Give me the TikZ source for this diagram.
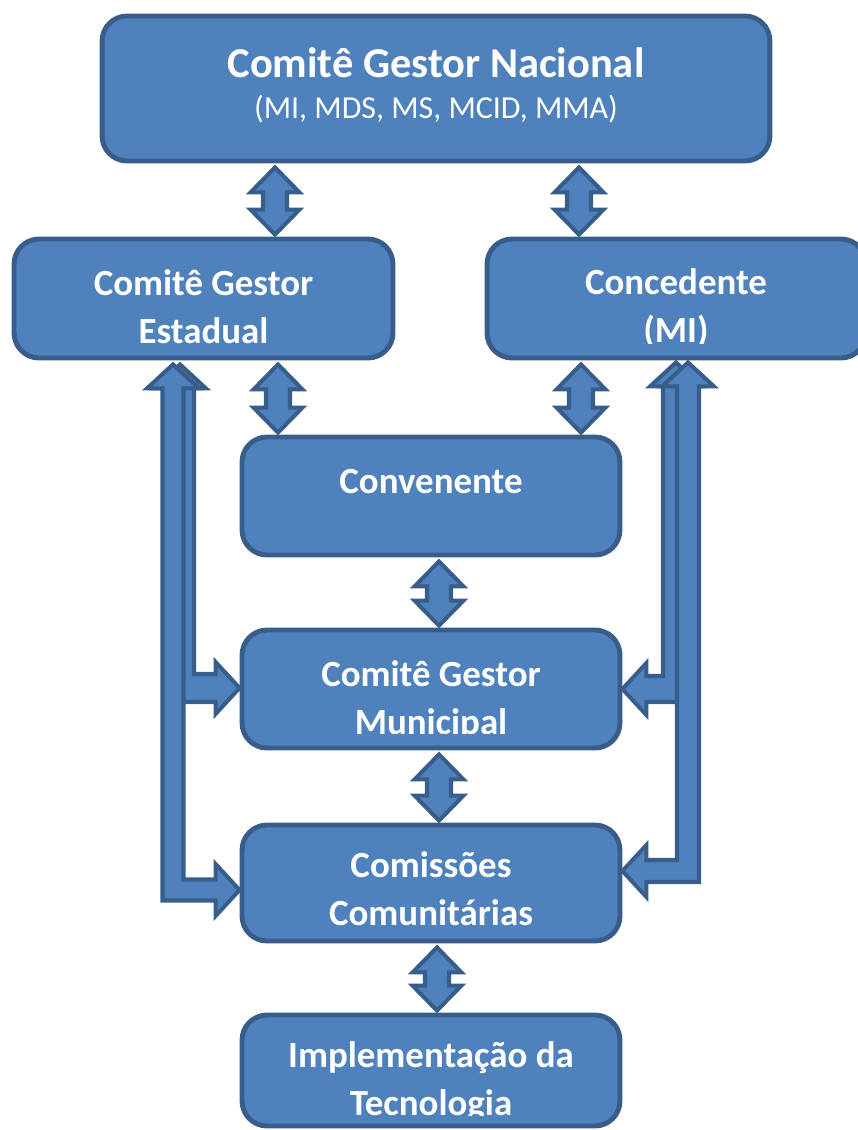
\documentclass[tikz,border=0pt]{standalone}
\usepackage{fontspec}
\setmainfont{Carlito}
\usetikzlibrary{calc}
\definecolor{boxfill}{HTML}{4F81BD}
\definecolor{boxline}{HTML}{385D8A}
\tikzset{orgbox/.style={draw=boxline,fill=boxfill,line width=2.8pt,rounded corners=0.5cm,inner sep=0pt}}
\tikzset{orgtext/.style={text=white,font=\bfseries\fontsize{21}{27}\selectfont,align=center,inner sep=0pt,anchor=base}}
\tikzset{blockarrow/.style={draw=boxline,fill=boxfill,line width=2.3pt,line join=miter}}

\begin{document}
\begin{tikzpicture}[x=0.02cm,y=0.02cm]
      \pgfmathsetmacro{\hh}{24.5}
      \pgfmathsetmacro{\hl}{25}
      \pgfmathsetmacro{\sw}{12}
      \pgfmathsetmacro{\lhh}{26}
      \pgfmathsetmacro{\lhl}{24}
      \useasboundingbox (0,0) rectangle (858,-1130);
      \clip (0,0) rectangle (858,-1130);
      \node[orgbox,minimum width=13.36cm,minimum height=2.9cm] (nacional) at (436,-88.5) {};
      \node[orgbox,minimum width=7.58cm,minimum height=2.38cm] (estadual) at (203.5,-298.5) {};
      \node[orgbox,minimum width=7.58cm,minimum height=2.38cm] (concedente) at (676.5,-298.5) {};
      \node[orgbox,minimum width=7.56cm,minimum height=2.36cm] (convenente) at (431,-496) {};
      \node[orgbox,minimum width=7.56cm,minimum height=2.36cm] (municipal) at (431,-689) {};
      \node[orgbox,minimum width=7.56cm,minimum height=2.32cm] (comissoes) at (431,-883) {};
      \node[orgbox,minimum width=7.56cm,minimum height=2.22cm] (implementacao) at (431,-1070.5) {};
      \node[orgtext,font=\bfseries\fontsize{24.2}{29}\selectfont] (nacionaltitle) at (436,-77) {Comitê Gestor Nacional};
      \node[orgtext,font=\fontsize{18.2}{22}\selectfont] (nacionalsub) at (436,-118) {(MI, MDS, MS, MCID, MMA)};
      \node[orgtext] (convenentetext) at (431,-493) {Convenente};
      \node[orgtext] (comissoestext) at (431,-925) {Comissões\\Comunitárias};
      \foreach \n/\x/\y/\c/\txt in {estadual/203.5/-343/17/{Comitê Gestor\\Estadual}, concedente/676/-342/17/{Concedente\\(MI)}, municipal/431/-734/17/{Comitê Gestor\\Municipal}, implementacao/431/-1115/13/{Implementação da\\Tecnologia}}
      {
        \begin{scope}
          \clip ($(\n.south west)+(0,\c)$) rectangle (\n.north east);
          \node[orgtext] (\n text) at (\x,\y) {\txt};
        \end{scope}
      }
      \foreach \x/\t/\b in {275/nacional/estadual, 579/nacional/concedente, 278/estadual/convenente, 581/concedente/convenente, 439/convenente/municipal, 439/municipal/comissoes, 437/comissoes/implementacao}
      {
        \coordinate (top) at ($(\x,0 |- \t.south)+(0,-4)$);
        \coordinate (bot) at ($(\x,0 |- \b.north)+(0,2)$);
        \filldraw[blockarrow] (top) -- ++(\hh,-\hl) -- ++(\sw-\hh,0) -- ($(bot)+(\sw,\hl)$) -- ++(\hh-\sw,0) -- (bot) -- ++(-\hh,\hl) -- ++(\hh-\sw,0) -- ($(top)+(-\sw,-\hl)$) -- ++(\sw-\hh,0) -- cycle;
      }
      \coordinate (l2t) at ($(180,0 |- estadual.south)+(0,-4)$);
      \coordinate (l2s) at (municipal.west |- 0,-688);
      \coordinate (l1t) at ($(173,0 |- estadual.south)+(0,-4)$);
      \coordinate (l1s) at (comissoes.west |- 0,-890);
      \coordinate (r2t) at ($(676,0 |- concedente.south)+(0,-2)$);
      \coordinate (r2s) at (municipal.east |- 0,-689);
      \coordinate (r1t) at ($(688,0 |- concedente.south)+(0,-2)$);
      \coordinate (r1s) at (comissoes.east |- 0,-871);
      \foreach \t/\s/\d/\w in {l2t/l2s/1/14, l1t/l1s/1/10.5, r2t/r2s/-1/13, r1t/r1s/-1/11}
      {
        \filldraw[blockarrow] (\t) -- ++({(\d)*\lhh},-\lhl) -- ++({(\d)*(\w-\lhh)},0) -- ($(\t |- \s)+({(\d)*\w},\w)$) -- ($(\s)+({-(\d)*\lhl},\w)$) -- ++(0,{\lhh-\w}) -- (\s) -- ++({-(\d)*\lhl},{-\lhh}) -- ++(0,{\lhh-\w}) -- ($(\t |- \s)+({-(\d)*\w},-\w)$) -- ($(\t)+({-(\d)*\w},-\lhl)$) -- ++({(\d)*(\w-\lhh)},0) -- cycle;
      }
    \end{tikzpicture}
\end{document}
